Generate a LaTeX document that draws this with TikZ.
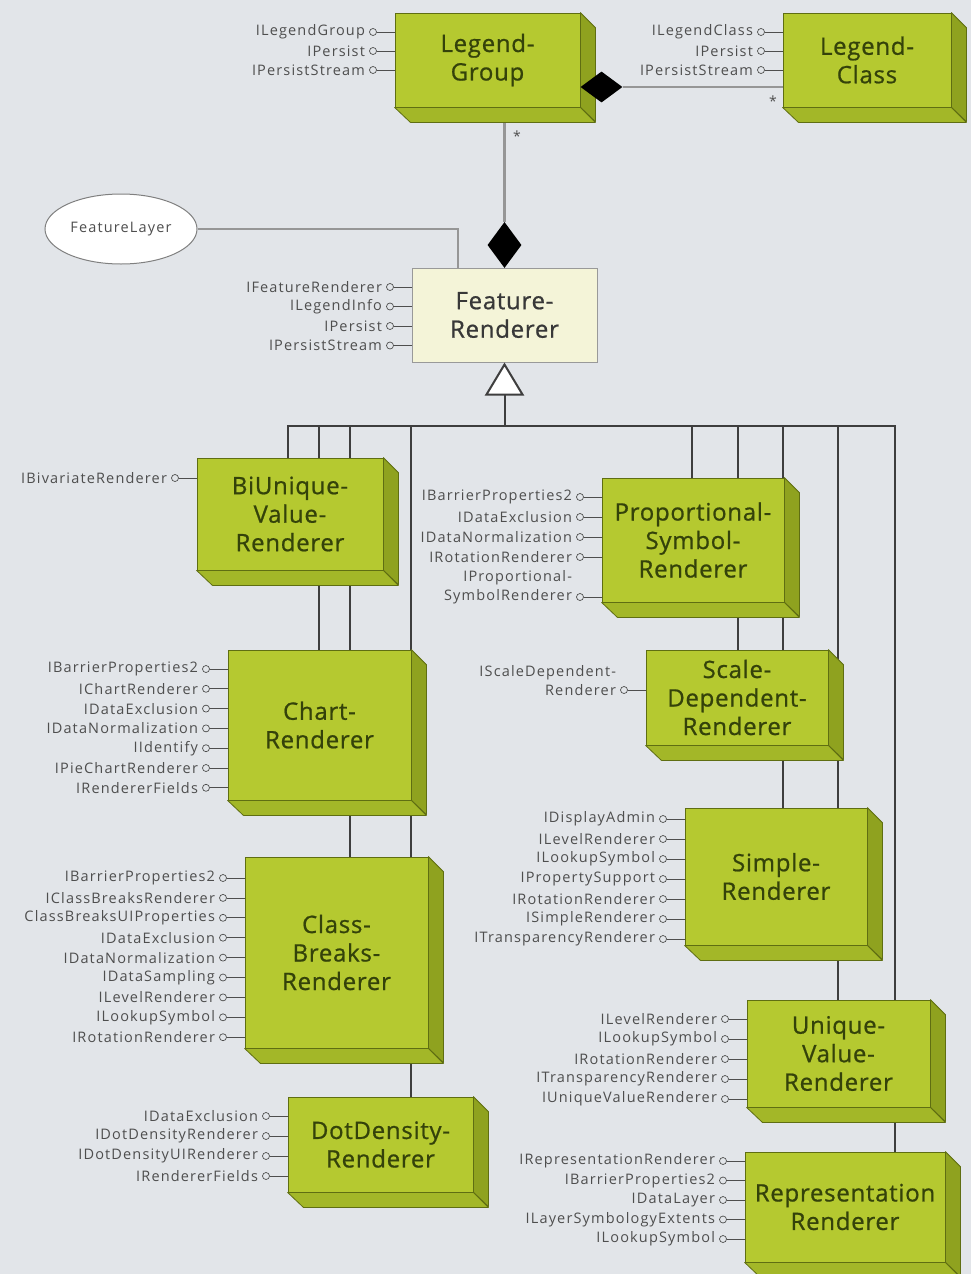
\documentclass[tikz,border=0pt]{standalone}
\usepackage{fontspec}
\setmainfont{Open Sans}
\newfontfamily\boxfont[LetterSpace=3,FakeBold=0.8]{Open Sans}
\newfontfamily\iffont[LetterSpace=8]{Open Sans}
\usetikzlibrary{shapes.geometric,calc}
\pgfdeclarelayer{back}
\pgfdeclarelayer{lines}
\pgfsetlayers{back,lines,main}
\definecolor{bgc}{HTML}{E2E5E9}
\definecolor{gfront}{HTML}{B5C930}
\definecolor{gside}{HTML}{8FA21F}
\definecolor{gbot}{HTML}{A3B728}
\definecolor{gedge}{HTML}{5F6E12}
\definecolor{gtext}{HTML}{34420A}
\definecolor{frfill}{HTML}{F4F4D8}
\definecolor{inhc}{HTML}{3E3E3E}
\definecolor{compc}{HTML}{969696}
\definecolor{ifc}{HTML}{4E4E4E}
\newcounter{ifcnt}
\tikzset{
  gface/.style={draw=gedge, fill=gfront, line width=0.8pt, inner sep=0pt, align=center,
    text=gtext, font=\boxfont\fontsize{24}{28.5}\selectfont},
  gsidestyle/.style={draw=gedge, fill=gside, line width=0.8pt, line join=round},
  gbotstyle/.style={draw=gedge, fill=gbot, line width=0.8pt, line join=round},
  frbox/.style={draw=black!40, fill=frfill, line width=1pt, inner sep=0pt, align=center,
    text=black!78, font=\boxfont\fontsize{24}{28.5}\selectfont},
  ifcirc/.style={circle, draw=ifc, fill=bgc, line width=0.7pt, inner sep=0pt, minimum size=7pt},
  ifline/.style={draw=ifc, line width=0.8pt},
  iflab/.style={inner sep=0pt, text=ifc, font=\iffont\fontsize{14.5}{16}\selectfont},
  inh/.style={draw=inhc, line width=2pt},
  inhtri/.style={draw=inhc, fill=white, line width=2pt, line join=miter},
  comp/.style={draw=compc, line width=2.5pt},
  compdia/.style={diamond, fill=black, inner sep=0pt},
  flnode/.style={ellipse, draw=black!50, fill=white, line width=1pt, minimum width=152pt,
    minimum height=70pt, inner sep=0pt, text=ifc, font=\iffont\fontsize{14.5}{16}\selectfont},
  starlab/.style={inner sep=0pt, text=ifc, font=\fontsize{14}{16}\selectfont}
}
\newcommand{\gbox}[6]{%
  \pgfmathsetmacro{\bw}{#4-#2}%
  \pgfmathsetmacro{\bh}{#5-#3}%
  \pgfmathsetmacro{\bcx}{(#2+#4)/2}%
  \pgfmathsetmacro{\bcy}{(#3+#5)/2}%
  \expandafter\xdef\csname bl#1\endcsname{#2}%
  \node[gface, minimum width=\bw pt, minimum height=\bh pt] (#1) at (\bcx,\bcy) {#6};
  \filldraw[gsidestyle] (#1.north east) -- ++(15,15) -- ++(0,\bh) -- (#1.south east) -- cycle;
  \filldraw[gbotstyle] (#1.south west) -- (#1.south east) -- ++(15,15) -- ++(-\bw,0) -- cycle;
}
\newcommand{\iface}[3]{%
  \stepcounter{ifcnt}%
  \pgfmathsetmacro{\icx}{\csname bl#1\endcsname-22}%
  \node[ifcirc] (ic\arabic{ifcnt}) at (\icx,#2) {};
  \draw[ifline] (ic\arabic{ifcnt}.east) -- (ic\arabic{ifcnt}.east -| #1.west);
  \node[iflab, anchor=east] (il\arabic{ifcnt}) at ([xshift=-4pt]ic\arabic{ifcnt}.west) {#3};
}
\newcommand{\ifaces}[4]{%
  \foreach \t [count=\i from 0] in {#4} {%
    \pgfmathsetmacro{\yy}{#2+\i*#3}%
    \iface{#1}{\yy}{\t}%
  }%
}
\begin{document}
\begin{tikzpicture}[x=1pt,y=-1pt]
\begin{pgfonlayer}{back}
  \fill[bgc] (0,0) rectangle (971,1274);
\end{pgfonlayer}
\useasboundingbox (0,0) rectangle (971,1274);

% boxes
\gbox{lg}{395}{13}{580}{107}{Legend-\\Group}
\gbox{lc}{783}{13}{951}{107}{Legend-\\Class}
\node[frbox, minimum width=185pt, minimum height=94pt] (fr) at (504.5,315) {Feature-\\Renderer};
\expandafter\xdef\csname blfr\endcsname{412}
\gbox{biu}{197}{458}{383}{570}{BiUnique-\\Value-\\Renderer}
\gbox{chart}{228}{650}{411}{800}{Chart-\\Renderer}
\gbox{cb}{245}{857}{428}{1048}{Class-\\Breaks-\\Renderer}
\gbox{dd}{288}{1097}{473}{1192}{DotDensity-\\Renderer}
\gbox{prop}{602}{478}{784}{602}{Proportional-\\Symbol-\\Renderer}
\gbox{sd}{646}{650}{828}{745}{Scale-\\Dependent-\\Renderer}
\gbox{simple}{685}{808}{867}{945}{Simple-\\Renderer}
\gbox{uv}{747}{1000}{930}{1107}{Unique-\\Value-\\Renderer}
\gbox{rep}{745}{1152}{945}{1262}{Representation\\Renderer}

% FeatureLayer
\node[flnode] (fl) at (121,229) {FeatureLayer};
\coordinate (frtop) at ([xshift=46pt]fr.north west);

% compositions
\node[compdia, minimum width=42pt, minimum height=31pt] (dg1) at (601.5,87) {};
\node[compdia, minimum width=34pt, minimum height=46pt] (dg2) at (504.5,245) {};
\node[starlab] (s1) at (773,101) {*};
\node[starlab] (s2) at (517,136) {*};

% inheritance
\coordinate (triapex) at ([yshift=-2pt]fr.south);
\coordinate (tribase) at ([yshift=-32pt]fr.south);
\coordinate (barmid) at (504.5,426);
\coordinate (barL) at (287,426);
\coordinate (barR) at (896,426);
\draw[inhtri] (triapex) -- ++(-18,30) -- ++(36,0) -- cycle;

\begin{pgfonlayer}{lines}
  \draw[comp] (dg1.east) -- (dg1.east -| lc.west);
  \draw[comp] (dg2.north) -- (dg2.north |- lg.south);
  \draw[comp, line width=2pt] (fl.east) -| (frtop);
  \draw[inh] (tribase) -- (barmid);
  \draw[inh] (barL) -- (barR);
  \foreach \x/\b in {288/biu,319/chart,350/cb,411/dd,692/prop,738/sd,783/simple,838/uv,895/rep} {
    \coordinate (t\b) at (\x,426);
    \draw[inh] (t\b) -- (t\b |- \b.north);
  }
\end{pgfonlayer}

% interfaces
\ifaces{lg}{32}{19}{ILegendGroup,IPersist,IPersistStream}
\ifaces{lc}{32}{19}{ILegendClass,IPersist,IPersistStream}
\ifaces{fr}{287}{19.5}{IFeatureRenderer,ILegendInfo,IPersist,IPersistStream}
\ifaces{biu}{478}{20}{IBivariateRenderer}
\ifaces{prop}{497}{20}{IBarrierProperties2,IDataExclusion,IDataNormalization,IRotationRenderer}
\iface{prop}{597}{SymbolRenderer}
\node[iflab, anchor=south east] (ilprop) at ([yshift=4.5pt]il\arabic{ifcnt}.north east) {IProportional-};
\iface{sd}{690}{Renderer}
\node[iflab, anchor=south east] (ilsd) at ([yshift=4.5pt]il\arabic{ifcnt}.north east) {IScaleDependent-};
\ifaces{chart}{669}{19.8}{IBarrierProperties2,IChartRenderer,IDataExclusion,IDataNormalization,IIdentify,IPieChartRenderer,IRendererFields}
\ifaces{cb}{878}{19.9}{IBarrierProperties2,IClassBreaksRenderer,ClassBreaksUIProperties,IDataExclusion,IDataNormalization,IDataSampling,ILevelRenderer,ILookupSymbol,IRotationRenderer}
\ifaces{dd}{1116}{20}{IDataExclusion,IDotDensityRenderer,IDotDensityUIRenderer,IRendererFields}
\ifaces{simple}{819}{20}{IDisplayAdmin,ILevelRenderer,ILookupSymbol,IPropertySupport,IRotationRenderer,ISimpleRenderer,ITransparencyRenderer}
\ifaces{uv}{1019}{20}{ILevelRenderer,ILookupSymbol,IRotationRenderer,ITransparencyRenderer,IUniqueValueRenderer}
\ifaces{rep}{1161}{19.5}{IRepresentationRenderer,IBarrierProperties2,IDataLayer,ILayerSymbologyExtents,ILookupSymbol}
\end{tikzpicture}
\end{document}
